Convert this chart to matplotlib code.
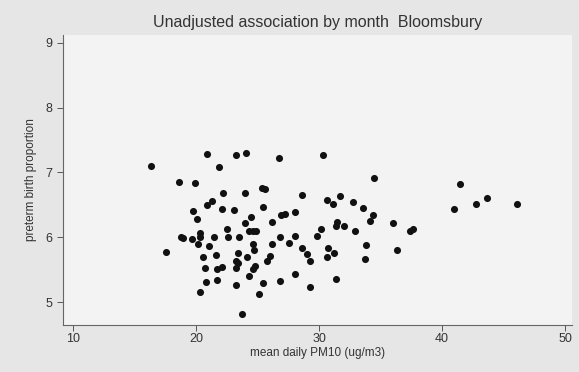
import matplotlib
matplotlib.use("Agg")
import matplotlib.pyplot as plt
import numpy as np

# monthly values
pm10 = [16.3, 18.64, 19.94, 20.92, 23.23, 24.04, 21.85, 26.71, 30.35, 34.47,
        41.42, 40.98, 42.76, 43.66, 46.10,
        22.20, 23.98, 25.37, 25.63, 28.58, 30.61, 31.16, 31.67, 32.76, 33.58,
        34.35, 34.15, 21.28, 20.85, 19.72, 22.09, 23.05, 25.42, 20.11, 24.43,
        26.91, 27.20, 28.07, 23.98, 26.14, 31.46, 31.38, 32.06, 35.99, 37.40,
        37.60, 32.93, 22.50, 24.27, 24.59, 24.84, 30.12,
        18.78, 18.97, 19.65, 20.28, 20.33, 21.48, 22.63, 23.48, 26.83, 28.07,
        29.86, 20.15, 21.03, 24.66, 24.70, 26.14, 27.54, 28.62, 30.72, 31.18,
        29.05, 29.27, 30.63, 33.78, 36.32, 33.76,
        17.58, 21.63, 20.55, 23.37, 24.17, 23.21, 23.37, 23.21, 20.73, 21.72,
        22.14, 26.02, 25.75, 24.80, 24.61, 24.33, 28.05, 20.83, 21.69, 23.25,
        26.83, 25.47, 31.41, 29.27, 20.31, 25.10, 23.74]
preterm = [7.10, 6.86, 6.83, 7.28, 7.27, 7.30, 7.08, 7.23, 7.27, 6.91,
           6.82, 6.44, 6.52, 6.61, 6.51,
           6.68, 6.69, 6.76, 6.74, 6.65, 6.57, 6.51, 6.64, 6.55, 6.45,
           6.35, 6.25, 6.56, 6.49, 6.41, 6.43, 6.42, 6.47, 6.28, 6.32,
           6.34, 6.36, 6.39, 6.22, 6.24, 6.24, 6.17, 6.18, 6.22, 6.10,
           6.12, 6.09, 6.12, 6.10, 6.10, 6.10, 6.12,
           6.01, 5.99, 5.97, 6.06, 6.00, 6.01, 6.01, 6.00, 6.00, 6.02,
           6.02, 5.90, 5.86, 5.89, 5.81, 5.89, 5.91, 5.83, 5.83, 5.75,
           5.74, 5.64, 5.69, 5.88, 5.80, 5.67,
           5.78, 5.73, 5.69, 5.76, 5.69, 5.64, 5.60, 5.53, 5.52, 5.51,
           5.54, 5.71, 5.63, 5.55, 5.51, 5.41, 5.43, 5.31, 5.34, 5.26,
           5.32, 5.29, 5.35, 5.23, 5.16, 5.13, 4.81]

xticks = [10, 20, 30, 40, 50]
yticks = [5, 6, 7, 8, 9]

plt.rcParams['font.family'] = ['Liberation Sans', 'DejaVu Sans']

fig = plt.figure(figsize=(5.79, 3.72), dpi=100, facecolor='#e6e6e6')
ax = fig.add_axes([0.109, 0.126, 0.879, 0.780])
ax.set_facecolor('#f3f3f3')

ax.scatter(pm10, preterm, s=26, color='#111111', linewidths=0, zorder=3)

ax.set_xlim(9.19, 50.57)
ax.set_ylim(4.645, 9.12)
ax.set_xticks(xticks)
ax.set_yticks(yticks)
ax.tick_params(axis='x', pad=2)
ax.tick_params(axis='both', colors='#555555', labelcolor='#333333',
               labelsize=9, length=4, width=0.7)

for side in ['top', 'right']:
    ax.spines[side].set_visible(False)
for side in ['left', 'bottom']:
    ax.spines[side].set_color('#666666')
    ax.spines[side].set_linewidth(0.8)

ax.set_xlabel('mean daily PM10 (ug/m3)', fontsize=8.5, color='#333333', labelpad=1)
ax.set_ylabel('preterm birth proportion', fontsize=8.5, color='#333333', labelpad=6)
ax.set_title('Unadjusted association by month  Bloomsbury', fontsize=11.5,
             color='#333333', pad=6)

fig.savefig('out.png', dpi=100, facecolor=fig.get_facecolor())
